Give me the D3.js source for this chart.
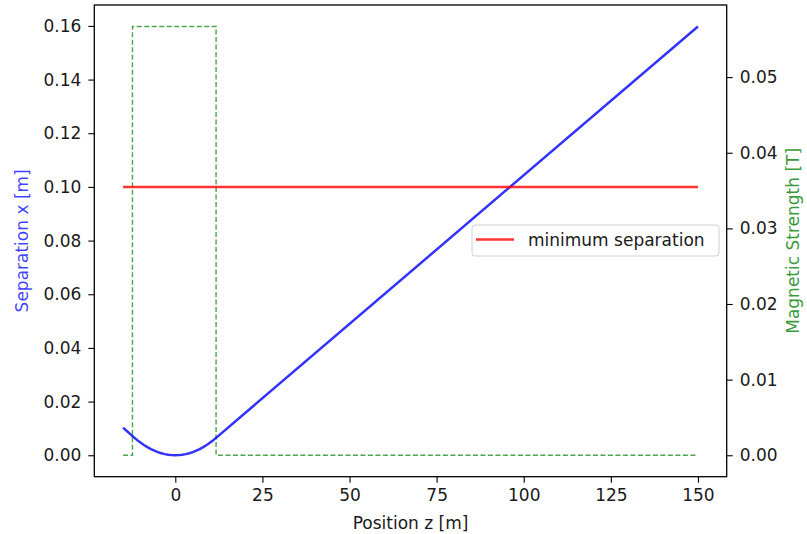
<!DOCTYPE html>
<html>
<head>
<meta charset="utf-8">
<script src="https://cdn.jsdelivr.net/npm/d3@7"></script>
<style>
  html, body { margin: 0; padding: 0; background: #fff; }
  svg text { font-family: "DejaVu Sans", sans-serif; }
</style>
</head>
<body>
<svg id="chart" width="807" height="534"></svg>
<script>
// ---- data ----
const sepZ = [-15, -14, -13, -12, -11, -10, -9, -8, -7, -6, -5, -4, -3, -2, -1, 0,
              1, 2, 3, 4, 5, 6, 7, 8, 9, 10, 11, 11.7, 150];
const sepX = [0.01031, 0.00915, 0.00798, 0.00682, 0.00573, 0.00474, 0.00384, 0.00303,
              0.00232, 0.00171, 0.00118, 0.00076, 0.00043, 0.00019, 0.00005, 0.00000,
              0.00005, 0.00019, 0.00043, 0.00076, 0.00118, 0.00171, 0.00232, 0.00303,
              0.00384, 0.00474, 0.00573, 0.00649, 0.1598];
const minSepZ = [-15, 150];
const minSepX = [0.10, 0.10];
const magZ = [-15, -12.3, -12.3, 11.7, 11.7, 150];
const magB = [0, 0, 0.0567, 0.0567, 0, 0];
const xTicks = [0, 25, 50, 75, 100, 125, 150];
const yLeftTicks = [0.00, 0.02, 0.04, 0.06, 0.08, 0.10, 0.12, 0.14, 0.16];
const yRightTicks = [0.00, 0.01, 0.02, 0.03, 0.04, 0.05];
const legendLabel = "minimum separation";
const xLabel = "Position z [m]";
const yLeftLabel = "Separation x [m]";
const yRightLabel = "Magnetic Strength [T]";

// ---- layout ----
const L = 94.3, R = 726.7, T = 5, B = 476.7;
const FS = 17;
const svg = d3.select("#chart");

function padDomain(lo, hi) { const r = hi - lo; return [lo - 0.05 * r, hi + 0.05 * r]; }
const x = d3.scaleLinear().domain(padDomain(-15, 150)).range([L, R]);
const yL = d3.scaleLinear().domain(padDomain(0, 0.1598)).range([B, T]);
const yR = d3.scaleLinear().domain(padDomain(0, 0.0567)).range([B, T]);

const plot = svg.append("g");

// magnetic strength (green dashed)
const magData = magZ.map((z, i) => [z, magB[i]]);
plot.append("path")
  .datum(magData)
  .attr("fill", "none")
  .attr("stroke", "#008000")
  .attr("stroke-opacity", 0.7)
  .attr("stroke-width", 1.4)
  .attr("stroke-dasharray", "5,2.5")
  .attr("d", d3.line().x(d => x(d[0])).y(d => yR(d[1])));

// separation (blue)
const sepData = sepZ.map((z, i) => [z, sepX[i]]);
plot.append("path")
  .datum(sepData)
  .attr("fill", "none")
  .attr("stroke", "#0000ff")
  .attr("stroke-opacity", 0.8)
  .attr("stroke-width", 2.5)
  .attr("stroke-linejoin", "round")
  .attr("d", d3.line().x(d => x(d[0])).y(d => yL(d[1])));

// minimum separation (red)
const minData = minSepZ.map((z, i) => [z, minSepX[i]]);
plot.append("path")
  .datum(minData)
  .attr("fill", "none")
  .attr("stroke", "#ff0000")
  .attr("stroke-opacity", 0.8)
  .attr("stroke-width", 2.5)
  .attr("d", d3.line().x(d => x(d[0])).y(d => yL(d[1])));

// axes
function styleAxis(g) {
  g.selectAll(".domain").remove();
  g.selectAll(".tick line").attr("stroke", "#000").attr("stroke-width", 1.1);
  g.selectAll(".tick text").attr("fill", "#1a1a1a").style("font-size", FS + "px")
    .style("font-family", "'DejaVu Sans', sans-serif");
}
svg.append("g").attr("transform", `translate(0,${B})`)
  .call(d3.axisBottom(x).tickValues(xTicks).tickFormat(d3.format("d")).tickSize(6).tickPadding(6))
  .call(styleAxis);
svg.append("g").attr("transform", `translate(${L},0)`)
  .call(d3.axisLeft(yL).tickValues(yLeftTicks).tickFormat(d3.format(".2f")).tickSize(6).tickPadding(7))
  .call(styleAxis);
svg.append("g").attr("transform", `translate(${R},0)`)
  .call(d3.axisRight(yR).tickValues(yRightTicks).tickFormat(d3.format(".2f")).tickSize(6).tickPadding(7))
  .call(styleAxis);

// frame
svg.append("rect")
  .attr("x", L).attr("y", T).attr("width", R - L).attr("height", B - T)
  .attr("fill", "none").attr("stroke", "#000").attr("stroke-width", 1.3);

// axis labels
svg.append("text")
  .attr("x", (L + R) / 2).attr("y", 529)
  .attr("text-anchor", "middle").attr("fill", "#1a1a1a").style("font-size", FS + "px")
  .text(xLabel);
svg.append("text")
  .attr("transform", `translate(28,${(T + B) / 2}) rotate(-90)`)
  .attr("text-anchor", "middle").attr("fill", "#0000ff").attr("fill-opacity", 0.75)
  .style("font-size", FS + "px")
  .text(yLeftLabel);
svg.append("text")
  .attr("transform", `translate(799,${(T + B) / 2}) rotate(-90)`)
  .attr("text-anchor", "middle").attr("fill", "#008000").attr("fill-opacity", 0.8)
  .style("font-size", FS + "px")
  .text(yRightLabel);

// legend
const lg = svg.append("g");
lg.append("rect")
  .attr("x", 472).attr("y", 225).attr("width", 247).attr("height", 31)
  .attr("rx", 3).attr("fill", "#fff").attr("fill-opacity", 0.8)
  .attr("stroke", "#d0d0d0").attr("stroke-width", 1);
lg.append("line")
  .attr("x1", 476).attr("x2", 514).attr("y1", 239.5).attr("y2", 239.5)
  .attr("stroke", "#ff0000").attr("stroke-opacity", 0.8).attr("stroke-width", 2.5);
lg.append("text")
  .attr("x", 528).attr("y", 245.5).attr("fill", "#1a1a1a").style("font-size", FS + "px")
  .text(legendLabel);
</script>
</body>
</html>
